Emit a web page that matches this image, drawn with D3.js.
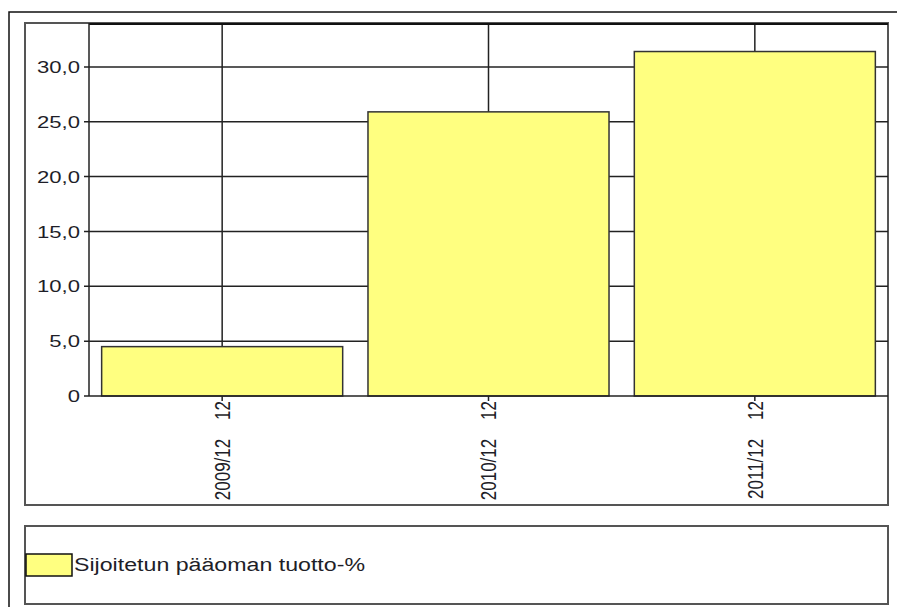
<!DOCTYPE html>
<html>
<head>
<meta charset="utf-8">
<script src="https://cdn.jsdelivr.net/npm/d3@7"></script>
<style>
  html, body { margin: 0; padding: 0; background: #fff; }
  svg { display: block; }
  text { font-family: "Liberation Sans", Arial, sans-serif; fill: #1e1e28; }
</style>
</head>
<body>
<svg id="chart" width="897" height="607"></svg>
<script>
// Chart data
const categories = ["2009/12", "2010/12", "2011/12"];
const periodSuffix = ["12", "12", "12"];
const seriesName = "Sijoitetun pääoman tuotto-%";
const seriesValues = [4.5, 25.9, 31.4];
const yTicks = [0, 5, 10, 15, 20, 25, 30];
const yTickLabels = ["0", "5,0", "10,0", "15,0", "20,0", "25,0", "30,0"];

const svg = d3.select("#chart");

// Layout
const plot = { left: 89, right: 888, top: 23, bottom: 396 };
const panel = { left: 25, right: 888, top: 23, bottom: 505 };
const legendBox = { left: 25, right: 888, top: 526, bottom: 604 };
const stretch = 1.3;   // glyphs are drawn horizontally widened

const x = d3.scaleBand()
  .domain(categories)
  .range([plot.left, plot.right])
  .paddingInner(0.095)
  .paddingOuter(0.0475);

const y = d3.scaleLinear()
  .domain([0, 34])
  .range([plot.bottom, plot.top]);

// Outer frame (left and top edges)
svg.append("path")
  .attr("d", `M9,607 V12 H897`)
  .attr("fill", "none")
  .attr("stroke", "#111")
  .attr("stroke-width", 1.5);

// Chart panel
svg.append("rect")
  .attr("x", panel.left).attr("y", panel.top)
  .attr("width", panel.right - panel.left)
  .attr("height", panel.bottom - panel.top)
  .attr("fill", "#fff")
  .attr("stroke", "#555")
  .attr("stroke-width", 2);

// Grid lines
const grid = svg.append("g").attr("stroke", "#222").attr("stroke-width", 1.5);
grid.selectAll("line.h")
  .data(yTicks.filter(d => d > 0))
  .join("line")
  .attr("x1", plot.left - 5).attr("x2", plot.right)
  .attr("y1", d => y(d)).attr("y2", d => y(d));
grid.selectAll("line.v")
  .data(categories)
  .join("line")
  .attr("x1", d => x(d) + x.bandwidth() / 2)
  .attr("x2", d => x(d) + x.bandwidth() / 2)
  .attr("y1", plot.top).attr("y2", plot.bottom + 5);

// Bars
svg.append("g")
  .selectAll("rect")
  .data(seriesValues)
  .join("rect")
  .attr("x", (d, i) => x(categories[i]))
  .attr("y", d => y(d))
  .attr("width", x.bandwidth())
  .attr("height", d => y(0) - y(d))
  .attr("fill", "#ffff80")
  .attr("stroke", "#333")
  .attr("stroke-width", 1.5);

// Plot frame: top, right, left axis and baseline
svg.append("line")
  .attr("x1", plot.left).attr("x2", plot.right)
  .attr("y1", plot.top + 1).attr("y2", plot.top + 1)
  .attr("stroke", "#111").attr("stroke-width", 2);
svg.append("line")
  .attr("x1", plot.left).attr("x2", plot.left)
  .attr("y1", plot.top).attr("y2", plot.bottom)
  .attr("stroke", "#222").attr("stroke-width", 1.5);
svg.append("line")
  .attr("x1", plot.left - 5).attr("x2", plot.right)
  .attr("y1", plot.bottom).attr("y2", plot.bottom)
  .attr("stroke", "#222").attr("stroke-width", 1.5);

// Y tick labels
svg.append("g")
  .selectAll("text")
  .data(yTicks)
  .join("text")
  .attr("transform", d => `translate(80,${y(d)}) scale(${stretch},1)`)
  .attr("text-anchor", "end")
  .attr("dy", "0.36em")
  .attr("font-size", 17)
  .text((d, i) => yTickLabels[i]);

// X category labels (rotated)
svg.append("g")
  .selectAll("text")
  .data(categories)
  .join("text")
  .attr("transform", d => `translate(${x(d) + x.bandwidth() / 2},${plot.bottom + 5}) rotate(-90) scale(1,${stretch})`)
  .attr("text-anchor", "end")
  .attr("dy", "0.36em")
  .attr("font-size", 17)
  .style("white-space", "pre")
  .text((d, i) => `${d}    ${periodSuffix[i]}`);

// Legend
svg.append("rect")
  .attr("x", legendBox.left).attr("y", legendBox.top)
  .attr("width", legendBox.right - legendBox.left)
  .attr("height", legendBox.bottom - legendBox.top)
  .attr("fill", "#fff")
  .attr("stroke", "#555")
  .attr("stroke-width", 2);
svg.append("rect")
  .attr("x", 26).attr("y", 554)
  .attr("width", 46).attr("height", 22)
  .attr("fill", "#ffff80")
  .attr("stroke", "#111")
  .attr("stroke-width", 1.5);
svg.append("text")
  .attr("x", 74).attr("y", 571)
  .attr("font-size", 18)
  .attr("textLength", 291)
  .attr("lengthAdjust", "spacingAndGlyphs")
  .text(seriesName);
</script>
</body>
</html>
